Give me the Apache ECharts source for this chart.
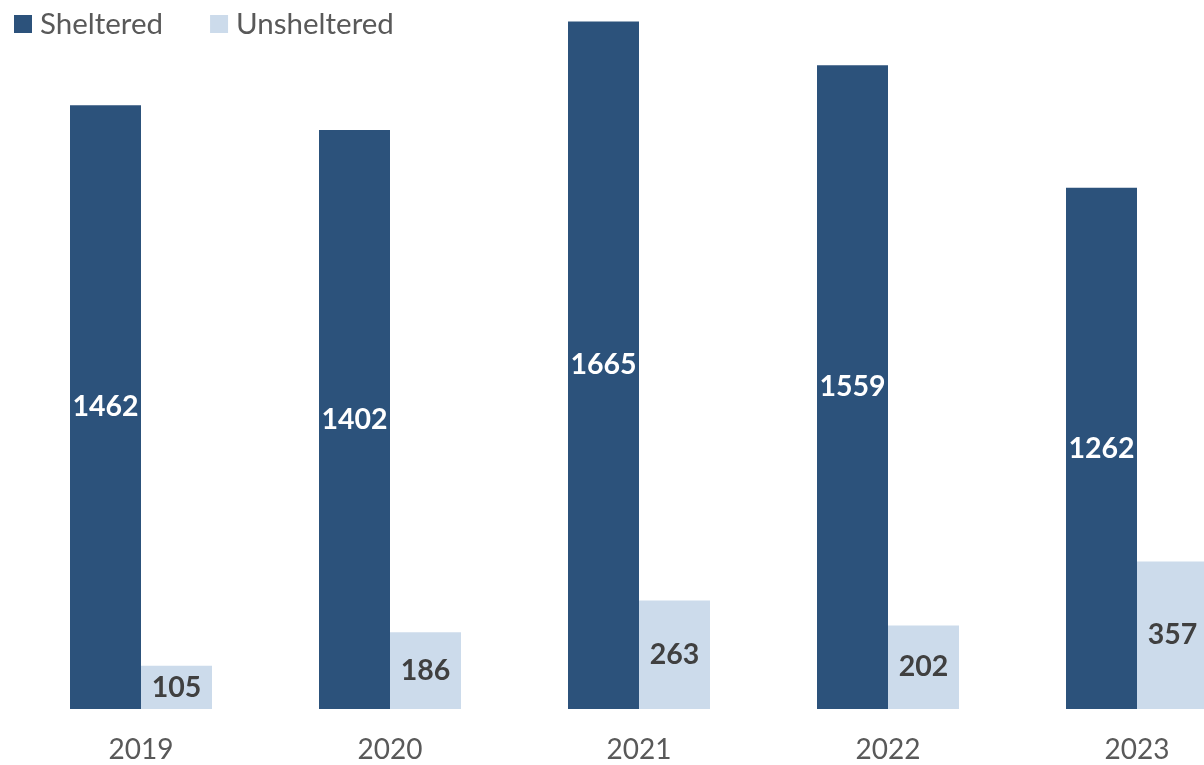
<!DOCTYPE html>
<html>
<head>
<meta charset="utf-8">
<script src="https://cdn.jsdelivr.net/npm/echarts@6/dist/echarts.min.js"></script>
<style>
  html, body { margin: 0; padding: 0; background: #fff; overflow: hidden; }
  /* the plot runs past the right edge of the window, like the original crop */
  #chart { width: 1262px; height: 765px; }
</style>
</head>
<body>
<div id="chart"></div>
<script>
const years = ["2019", "2020", "2021", "2022", "2023"];
const sheltered = [1462, 1402, 1665, 1559, 1262];
const unsheltered = [105, 186, 263, 202, 357];

const font = "Lato, 'Open Sans', sans-serif";
let myChart = echarts.init(document.getElementById("chart"));
myChart.setOption({
  animation: false,
  grid: {
    left: 16.5,
    right: 0.5,
    top: 7,
    bottom: 56,
  },
  legend: {
    left: 9,
    top: 4,
    itemWidth: 18,
    itemHeight: 18,
    itemGap: 47,
    icon: "rect",
    textStyle: {
      fontFamily: font,
      fontSize: 29.5,
      color: "#595959",
      padding: [0, 0, 0, 3],
    },
    data: ["Sheltered", "Unsheltered"],
  },
  xAxis: {
    type: "category",
    data: years,
    axisLine: { show: false },
    axisTick: { show: false },
    axisLabel: {
      margin: 27,
      fontFamily: font,
      fontSize: 28,
      color: "#595959",
    },
  },
  yAxis: {
    type: "value",
    min: 0,
    max: 1700,
    show: false,
    splitLine: { show: false },
  },
  series: [
    {
      name: "Sheltered",
      type: "bar",
      data: sheltered,
      barWidth: 71,
      barGap: "0%",
      itemStyle: { color: "#2C527B" },
      label: {
        show: true,
        position: "inside",
        color: "#ffffff",
        fontFamily: font,
        fontWeight: "bold",
        fontSize: 28.5,
      },
    },
    {
      name: "Unsheltered",
      type: "bar",
      data: unsheltered,
      barWidth: 71,
      barGap: "0%",
      itemStyle: { color: "#CCDBEB" },
      label: {
        show: true,
        position: "inside",
        color: "#404040",
        fontFamily: font,
        fontWeight: "bold",
        fontSize: 28.5,
      },
    },
  ],
});
</script>
</body>
</html>
